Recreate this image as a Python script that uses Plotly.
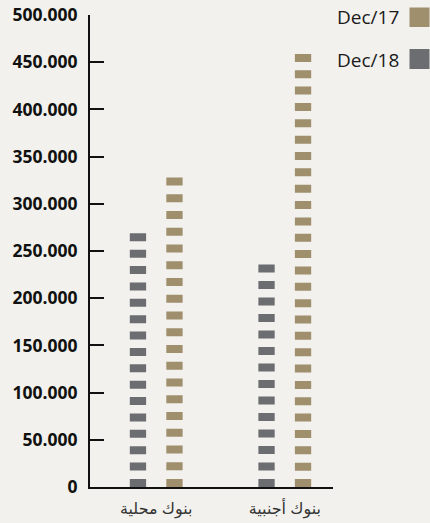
import plotly.graph_objects as go

# ---- data -------------------------------------------------------------
categories = ["بنوك محلية", "بنوك أجنبية"]
dec18_values = [269000, 236000]
dec17_values = [328000, 459000]
series_names = ["Dec/18", "Dec/17"]
y_tickvals = [0, 50000, 100000, 150000, 200000, 250000, 300000, 350000, 400000, 450000, 500000]
y_ticktext = ["0", "50.000", "100.000", "150.000", "200.000", "250.000",
              "300.000", "350.000", "400.000", "450.000", "500.000"]

# ---- styling ------------------------------------------------------------
W, H = 430, 523
L, R, T, B = 90, 97, 15, 36
PLOT_W, PLOT_H = W - L - R, H - T - B
Y_MAX = 500000
BG = "#f2f1ed"
GREY = "#6c6d71"
TAN = "#9f8f6d"
BAR_W = 16.3          # px, width of each segmented column
DASH = 8.0            # px, height of one segment
PERIOD = 16.5         # px, nominal segment spacing
OFFSET = 0.142        # category units, half distance between paired columns
X_RANGE = [-0.515, 1.375]


def px_x(p):
    return (p - L) / PLOT_W


def px_y(p):
    return 1 - (p - T) / PLOT_H


def dash_for(value):
    """Dash pattern so the column ends on a whole segment."""
    h = value * PLOT_H / Y_MAX
    n = max(2, round((h + PERIOD - DASH) / PERIOD))
    gap = (h - 0.2 - n * DASH) / (n - 1)
    return f"{DASH}px,{gap:.3f}px,{DASH}px,{gap:.3f}px"


fig = go.Figure()

for values, color, shift in ((dec18_values, GREY, -OFFSET), (dec17_values, TAN, OFFSET)):
    for i, v in enumerate(values):
        fig.add_trace(go.Scatter(
            x=[i + shift, i + shift], y=[0, v],
            mode="lines",
            line=dict(color=color, width=BAR_W, dash=dash_for(v)),
            showlegend=False, hoverinfo="skip",
        ))

fig.update_layout(
    width=W, height=H,
    margin=dict(l=L, r=R, t=T, b=B, pad=0, autoexpand=False),
    paper_bgcolor=BG, plot_bgcolor=BG,
    showlegend=False,
    font=dict(family="Open Sans, DejaVu Sans, sans-serif", color="#231f20"),
)

fig.update_xaxes(
    range=X_RANGE, automargin=False,
    tickvals=list(range(len(categories))), ticktext=categories,
    showgrid=False, zeroline=False,
    showline=True, linecolor="#111111", linewidth=2,
    ticks="", tickfont=dict(size=16, color="#333333"),
    ticklabelstandoff=6,
)

fig.update_yaxes(
    range=[0, Y_MAX], automargin=False,
    tickvals=y_tickvals, ticktext=y_ticktext,
    showgrid=False, zeroline=False,
    showline=True, linecolor="#111111", linewidth=2,
    ticks="inside", ticklen=14, tickwidth=2, tickcolor="#111111",
    tickfont=dict(size=17.5, color="#111111", family="Open Sans, sans-serif", weight="bold"),
    ticklabelstandoff=7,
)

# legend: label on the left, colour swatch on the right
legend_items = [(series_names[1], TAN, 7.5, 27.0, 17.0),
                (series_names[0], GREY, 49.0, 69.0, 59.5)]
for name, color, y0, y1, yc in legend_items:
    fig.add_shape(type="rect", xref="paper", yref="paper",
                  x0=px_x(409.5), x1=px_x(429.5), y0=px_y(y1), y1=px_y(y0),
                  fillcolor=color, line=dict(width=0))
    fig.add_annotation(xref="paper", yref="paper", x=px_x(401), y=px_y(yc),
                       text=name, showarrow=False, xanchor="right", yanchor="middle",
                       font=dict(size=19, color="#1a1a1a", family="Open Sans, sans-serif"))

fig.write_html("out.html")
